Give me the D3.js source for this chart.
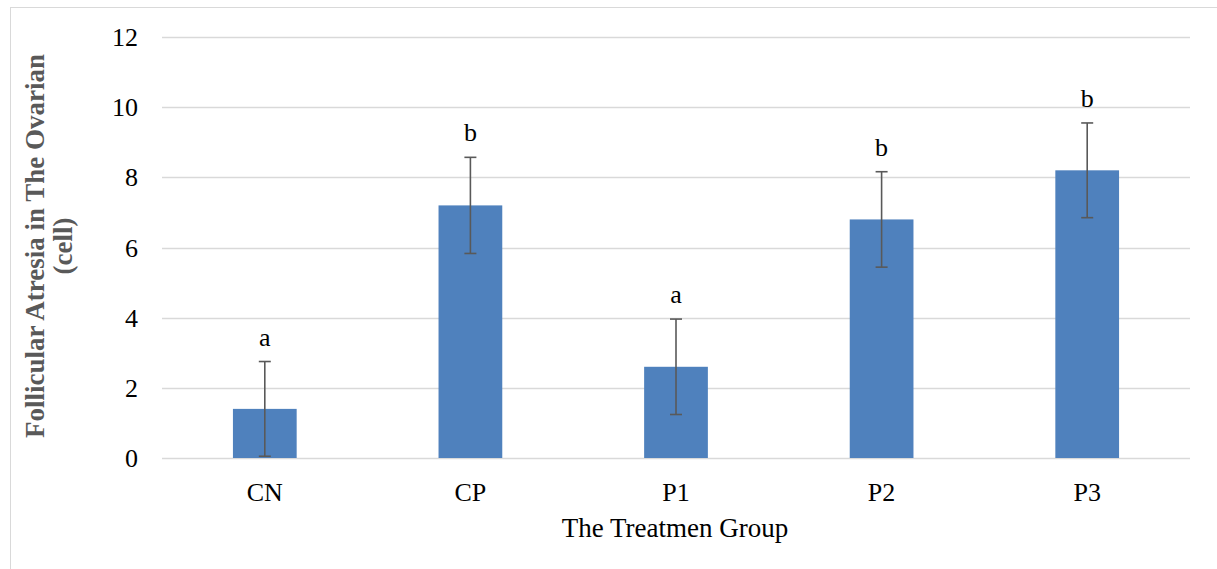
<!DOCTYPE html>
<html>
<head>
<meta charset="utf-8">
<script src="https://cdn.jsdelivr.net/npm/d3@7"></script>
<style>
  html, body { margin: 0; padding: 0; background: #fff; }
  svg { display: block; }
</style>
</head>
<body>
<svg id="chart" width="1217" height="569"></svg>
<script>
// Treatment groups and mean follicular atresia counts
const groups = ["CN", "CP", "P1", "P2", "P3"];
const means = [1.4, 7.2, 2.6, 6.8, 8.2];
const errors = [1.35, 1.37, 1.36, 1.36, 1.35];
const letters = ["a", "b", "a", "b", "b"];
const yTicks = [0, 2, 4, 6, 8, 10, 12];

const svg = d3.select("#chart");
const W = 1217, H = 569;
const margin = { left: 162, right: 27, top: 37, bottom: 111 };
const font = "'Liberation Serif', 'Times New Roman', serif";

// outer frame
svg.append("rect")
  .attr("x", 10.5).attr("y", 7.5)
  .attr("width", W + 20).attr("height", H + 20)
  .attr("fill", "none").attr("stroke", "#d9d9d9").attr("stroke-width", 1);

const x = d3.scaleBand().domain(groups)
  .range([margin.left, W - margin.right]).paddingInner(0.69).paddingOuter(0.345);
const y = d3.scaleLinear().domain([0, 12]).range([H - margin.bottom, margin.top]);

// horizontal gridlines
svg.append("g").selectAll("line").data(yTicks).join("line")
  .attr("x1", margin.left).attr("x2", W - margin.right)
  .attr("y1", d => Math.round(y(d)) + 0.5).attr("y2", d => Math.round(y(d)) + 0.5)
  .attr("stroke", "#d9d9d9").attr("stroke-width", 1.5);

// y tick labels
svg.append("g").selectAll("text").data(yTicks).join("text")
  .attr("x", 138).attr("y", d => y(d))
  .attr("dy", "0.35em")
  .attr("text-anchor", "end")
  .attr("font-family", font).attr("font-size", 26).attr("fill", "#000")
  .text(d => d);

// bars
svg.append("g").selectAll("rect").data(groups).join("rect")
  .attr("x", d => x(d)).attr("width", x.bandwidth())
  .attr("y", (d, i) => y(means[i]))
  .attr("height", (d, i) => y(0) - y(means[i]))
  .attr("fill", "#4f81bd");

// error bars
const eb = svg.append("g").attr("stroke", "#595959").attr("stroke-width", 1.6);
groups.forEach((g, i) => {
  const cx = x(g) + x.bandwidth() / 2;
  const top = y(means[i] + errors[i]);
  const bot = y(means[i] - errors[i]);
  eb.append("line").attr("x1", cx).attr("x2", cx).attr("y1", top).attr("y2", bot);
  eb.append("line").attr("x1", cx - 6).attr("x2", cx + 6).attr("y1", top).attr("y2", top);
  eb.append("line").attr("x1", cx - 6).attr("x2", cx + 6).attr("y1", bot).attr("y2", bot);
});

// significance letters
svg.append("g").selectAll("text").data(groups).join("text")
  .attr("x", d => x(d) + x.bandwidth() / 2)
  .attr("y", (d, i) => y(means[i] + errors[i]) - 16)
  .attr("text-anchor", "middle")
  .attr("font-family", font).attr("font-size", 26).attr("fill", "#000")
  .text((d, i) => letters[i]);

// x category labels
svg.append("g").selectAll("text").data(groups).join("text")
  .attr("x", d => x(d) + x.bandwidth() / 2)
  .attr("y", 501)
  .attr("text-anchor", "middle")
  .attr("font-family", font).attr("font-size", 26).attr("fill", "#000")
  .text(d => d);

// x axis title
svg.append("text")
  .attr("x", (margin.left + W - margin.right) / 2 - 1).attr("y", 537)
  .attr("text-anchor", "middle")
  .attr("font-family", font).attr("font-size", 27).attr("fill", "#000")
  .text("The Treatmen Group");

// y axis title (two lines)
const yt = svg.append("text")
  .attr("transform", "translate(44,246) rotate(-90)")
  .attr("text-anchor", "middle")
  .attr("font-family", font).attr("font-size", 27).attr("font-weight", "bold")
  .attr("fill", "#595959");
yt.append("tspan").attr("x", 0).attr("y", 0).text("Follicular Atresia in The Ovarian");
yt.append("tspan").attr("x", 0).attr("y", 28).text("(cell)");
</script>
</body>
</html>
